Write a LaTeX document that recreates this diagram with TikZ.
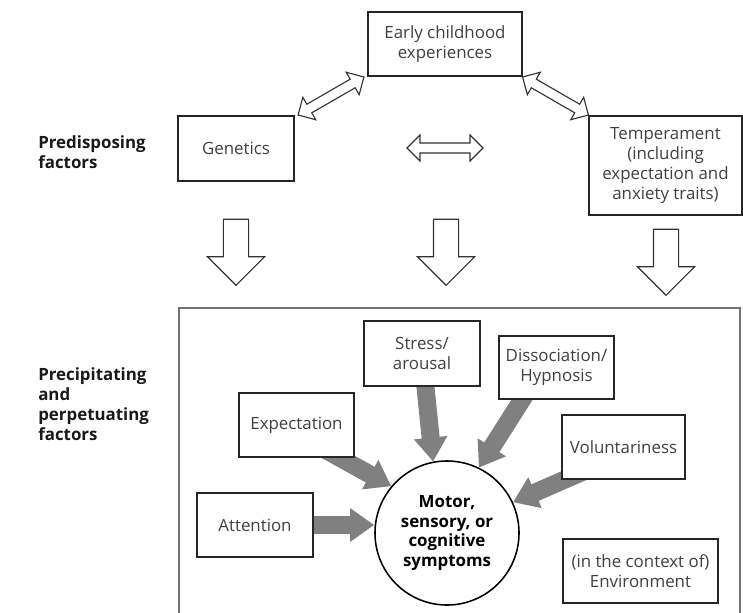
\documentclass[tikz,border=0pt]{standalone}
\usepackage{fontspec}
\setmainfont{Open Sans}
\usepackage{tikz}
\usetikzlibrary{shapes}
\usetikzlibrary{positioning}
\usetikzlibrary{arrows.meta}
\usetikzlibrary{calc}
\usetikzlibrary{backgrounds}
\tikzset{
    factor/.style = {rectangle, draw=black!85, line width=1.1pt, fill=white, align=center, text=black!75, inner sep=2pt},
    symptom/.style = {circle, draw=black, line width=1.1pt, fill=white, align=center, minimum size=3.6cm, inner sep=0pt, font=\bfseries\fontsize{12}{14.2}\selectfont},
    sidelabel/.style = {anchor=west, align=left, inner sep=0pt, text=black!90, font=\bfseries\fontsize{12}{14.2}\selectfont},
    downarrow/.style = {single arrow, draw=black!80, fill=white, line width=0.8pt, rotate=-90, minimum height=1.65cm, inner xsep=0pt, inner ysep=0.3cm, single arrow head extend=0.4cm},
    bothway/.style = {double arrow, draw=black!80, fill=white, line width=0.8pt, minimum height=1.9cm, inner xsep=0pt, inner ysep=0.11cm, double arrow head extend=0.2cm},
    edgef/.style = {-{Triangle[width=0.8cm,length=0.6cm]}, line width=0.45cm, black!50}, % gray push
}

\begin{document}
\begin{tikzpicture}[x=0.025cm, y=-0.025cm, font=\fontsize{12}{14.2}\selectfont]
  \useasboundingbox (0,0) rectangle (743,612);

  % predisposing row
  \node[sidelabel] at (38,152) (pre) {Predisposing\\factors};
  \node[factor, minimum width=3.85cm, minimum height=1.6cm] at (445,44) (early) {Early childhood\\experiences};
  \node[factor, minimum width=2.9cm, minimum height=1.625cm] at (236,148.5) (gen) {Genetics};
  \node[factor, minimum width=3.825cm, minimum height=2.475cm] at (665.5,165.5) (temp) {Temperament\\(including\\expectation and\\anxiety traits)};

  \node[bothway, rotate=30] at ($(gen.north east)!0.5!(early.south west)$) (ge) {};
  \node[bothway, rotate=-30] at ($(early.south east)!0.5!(temp.north west)$) (et) {};
  \node[bothway] at (445,148) (gt) {};

  \node[downarrow] at (236,246) (d1) {};
  \node[downarrow] at (446,246) (d2) {};
  \node[downarrow] at (666,256) (d3) {};

  % precipitating and perpetuating
  \draw[black!55, line width=1.2pt] (179,620) -- (179,308) -- (740,308) -- (740,620);
  \node[sidelabel] at (38,404) (prec) {Precipitating\\and\\perpetuating\\factors};

  \node[symptom] at (447,533) (sym) {Motor,\\sensory, or\\cognitive\\symptoms};
  \node[factor, minimum width=2.9cm, minimum height=1.625cm] at (422,353.5) (str) {Stress/\\arousal};
  \node[factor, minimum width=2.875cm, minimum height=1.6cm] at (296.5,425) (expc) {Expectation};
  \node[factor, minimum width=2.875cm, minimum height=1.575cm] at (556.5,367.5) (dis) {Dissociation/\\Hypnosis};
  \node[factor, minimum width=3.075cm, minimum height=1.6cm] at (623.5,447) (vol) {Voluntariness};
  \node[factor, minimum width=2.9cm, minimum height=1.6cm] at (255,525) (att) {Attention};
  \node[factor, minimum width=3.875cm, minimum height=1.6cm] at (640.5,571) (env) {(in the context of)\\Environment};

  \begin{scope}[on background layer]
    \draw[edgef] (att.center) -- (att.center -| sym.west);
    \draw[edgef] ([xshift=-0.4cm]expc.center) -- (sym.140);
    \draw[edgef] (str.center) -- (sym.101);
    \draw[edgef] ([xshift=-0.35cm]dis.center) -- (sym.64);
    \draw[edgef] ([xshift=0.4cm]vol.center) -- (sym.25);
  \end{scope}
\end{tikzpicture}
\end{document}
